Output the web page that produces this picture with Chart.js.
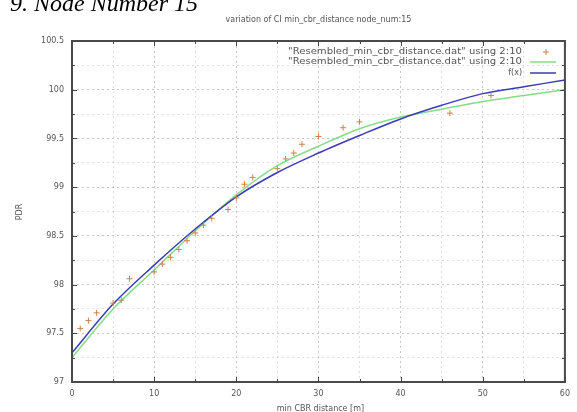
<!DOCTYPE html>
<html>
<head>
<meta charset="utf-8">
<script src="https://cdn.jsdelivr.net/npm/chart.js@4/dist/chart.umd.min.js"></script>
<style>
  html, body { margin: 0; padding: 0; background: #fff; }
  #wrap { position: relative; width: 577px; height: 412px; overflow: hidden; }
  #hdr { position: absolute; left: 10px; top: -9px; font: italic 24px "Liberation Serif", "DejaVu Serif", serif; color: #000; line-height: 24px; white-space: nowrap; }
  canvas { position: absolute; left: 0; top: 0; }
</style>
</head>
<body>
<div id="wrap">
  <canvas id="c" width="577" height="412"></canvas>
  <div id="hdr">9. Node Number 15</div>
</div>
<script>
// ---- data ----
const scatterX = [1, 2, 3, 5, 6, 7, 10, 11, 12, 13, 14, 15, 16, 17, 19, 20, 21, 22, 25, 26, 27, 28, 30, 33, 35, 46, 51];
const scatterY = [97.55, 97.63, 97.71, 97.81, 97.84, 98.06, 98.13, 98.21, 98.28, 98.36, 98.45, 98.53, 98.61, 98.68, 98.77, 98.89, 99.03, 99.10, 99.19, 99.29, 99.35, 99.44, 99.52, 99.61, 99.67, 99.76, 99.94];
const lineX = [0, 5, 10, 15, 20, 25, 30, 35, 40, 45, 50, 55, 60];
const greenY = [97.25, 97.75, 98.15, 98.55, 98.92, 99.22, 99.42, 99.60, 99.72, 99.80, 99.88, 99.94, 100.0];
const blueY = [97.30, 97.80, 98.20, 98.57, 98.90, 99.15, 99.35, 99.53, 99.70, 99.84, 99.96, 100.03, 100.10];
const xTickLabels = ["0", "10", "20", "30", "40", "50", "60"];
const yTickLabels = ["97", "97.5", "98", "98.5", "99", "99.5", "100", "100.5"];
const seriesNames = ['"Resembled_min_cbr_distance.dat" using 2:10', '"Resembled_min_cbr_distance.dat" using 2:10', 'f(x)'];
const chartTitle = "variation of CI min_cbr_distance node_num:15";
const xTitle = "min CBR distance [m]";
const yTitle = "PDR";

const toPts = (xs, ys) => xs.map((x, i) => ({ x: x, y: ys[i] }));
const COL_PTS = '#d0804a', COL_GREEN = '#86dc86', COL_BLUE = '#3a3ab8';
const TXT = '#555';
const FONT = '"DejaVu Sans", sans-serif';

const decor = {
  id: 'decor',
  afterDatasetsDraw(chart) {
    const ctx = chart.ctx, a = chart.chartArea;
    const xs = chart.scales.x, ys = chart.scales.y;
    ctx.save();
    // inward ticks
    ctx.strokeStyle = '#444'; ctx.lineWidth = 1;
    xs.ticks.forEach(t => {
      const px = Math.round(xs.getPixelForValue(t.value)) + 0.5;
      const major = xTickLabels.includes(String(t.value));
      const L = major ? 5 : 3;
      ctx.beginPath();
      ctx.moveTo(px, a.bottom); ctx.lineTo(px, a.bottom - L);
      ctx.moveTo(px, a.top); ctx.lineTo(px, a.top + L);
      ctx.stroke();
    });
    ys.ticks.forEach(t => {
      const py = Math.round(ys.getPixelForValue(t.value)) + 0.5;
      const major = yTickLabels.includes(String(t.value));
      const L = major ? 5 : 3;
      ctx.beginPath();
      ctx.moveTo(a.left, py); ctx.lineTo(a.left + L, py);
      ctx.moveTo(a.right, py); ctx.lineTo(a.right - L, py);
      ctx.stroke();
    });
    // frame
    ctx.strokeStyle = '#4a4a4a'; ctx.lineWidth = 2;
    ctx.strokeRect(a.left, a.top, a.right - a.left, a.bottom - a.top);
    // title
    ctx.fillStyle = TXT;
    ctx.font = '8px ' + FONT;
    ctx.textAlign = 'center'; ctx.textBaseline = 'middle';
    ctx.fillText(chartTitle, (a.left + a.right) / 2, 20);
    // axis titles
    ctx.fillText(xTitle, (a.left + a.right) / 2 + 2, 409);
    ctx.save();
    ctx.translate(20, 212); ctx.rotate(-Math.PI / 2);
    ctx.fillText(yTitle, 0, 0);
    ctx.restore();
    // legend
    ctx.textAlign = 'right';
    const rowsY = [52, 62, 73];
    const tx = 522;
    seriesNames.forEach((n, i) => {
      const w = ctx.measureText(n).width;
      ctx.save();
      if (i < 2) {
        const target = 234;
        ctx.translate(tx, rowsY[i]);
        ctx.scale(target / w, 1);
        ctx.fillText(n, 0, 0);
      } else {
        ctx.fillText(n, tx, rowsY[i]);
      }
      ctx.restore();
    });
    // legend samples
    ctx.strokeStyle = COL_PTS; ctx.lineWidth = 1;
    ctx.beginPath();
    ctx.moveTo(543, rowsY[0]); ctx.lineTo(549, rowsY[0]);
    ctx.moveTo(546, rowsY[0] - 3); ctx.lineTo(546, rowsY[0] + 3);
    ctx.stroke();
    ctx.lineWidth = 1.5;
    ctx.strokeStyle = COL_GREEN;
    ctx.beginPath(); ctx.moveTo(530, rowsY[1]); ctx.lineTo(556, rowsY[1]); ctx.stroke();
    ctx.strokeStyle = COL_BLUE;
    ctx.beginPath(); ctx.moveTo(530, rowsY[2]); ctx.lineTo(556, rowsY[2]); ctx.stroke();
    ctx.restore();
  }
};

new Chart(document.getElementById('c'), {
  type: 'scatter',
  data: {
    datasets: [
      { label: seriesNames[0], data: toPts(scatterX, scatterY), showLine: false,
        pointStyle: 'cross', pointRadius: 3, borderColor: COL_PTS, borderWidth: 1, backgroundColor: COL_PTS, order: 0 },
      { label: seriesNames[1], data: toPts(lineX, greenY), showLine: true, pointRadius: 0,
        borderColor: COL_GREEN, borderWidth: 1.5, cubicInterpolationMode: 'monotone', order: 2 },
      { label: seriesNames[2], data: toPts(lineX, blueY), showLine: true, pointRadius: 0,
        borderColor: COL_BLUE, borderWidth: 1.5, cubicInterpolationMode: 'monotone', order: 1 }
    ]
  },
  options: {
    responsive: false,
    animation: false,
    layout: { padding: { left: 0, right: 12, top: 41, bottom: 0 } },
    plugins: { legend: { display: false }, title: { display: false }, tooltip: { enabled: false } },
    scales: {
      x: {
        type: 'linear', min: 0, max: 60,
        afterFit: s => { s.height = 30; },
        ticks: { stepSize: 5, padding: 7, maxRotation: 0, autoSkip: false, color: TXT, font: { family: FONT, size: 8 },
          callback: v => xTickLabels.includes(String(v)) ? String(v) : '' },
        grid: { drawTicks: false, lineWidth: 1,
          color: c => (c.tick && xTickLabels.includes(String(c.tick.value))) ? 'rgba(0,0,0,0.22)' : 'rgba(0,0,0,0.12)' },
        border: { display: false, dash: [2, 3] }
      },
      y: {
        type: 'linear', min: 97, max: 100.5,
        afterFit: s => { s.width = 72; },
        ticks: { stepSize: 0.25, padding: 8, autoSkip: false, color: TXT, font: { family: FONT, size: 8 },
          callback: v => yTickLabels.includes(String(v)) ? String(v) : '' },
        grid: { drawTicks: false, lineWidth: 1,
          color: c => (c.tick && yTickLabels.includes(String(c.tick.value))) ? 'rgba(0,0,0,0.22)' : 'rgba(0,0,0,0.12)' },
        border: { display: false, dash: [2, 3] }
      }
    }
  },
  plugins: [decor]
});
</script>
</body>
</html>
